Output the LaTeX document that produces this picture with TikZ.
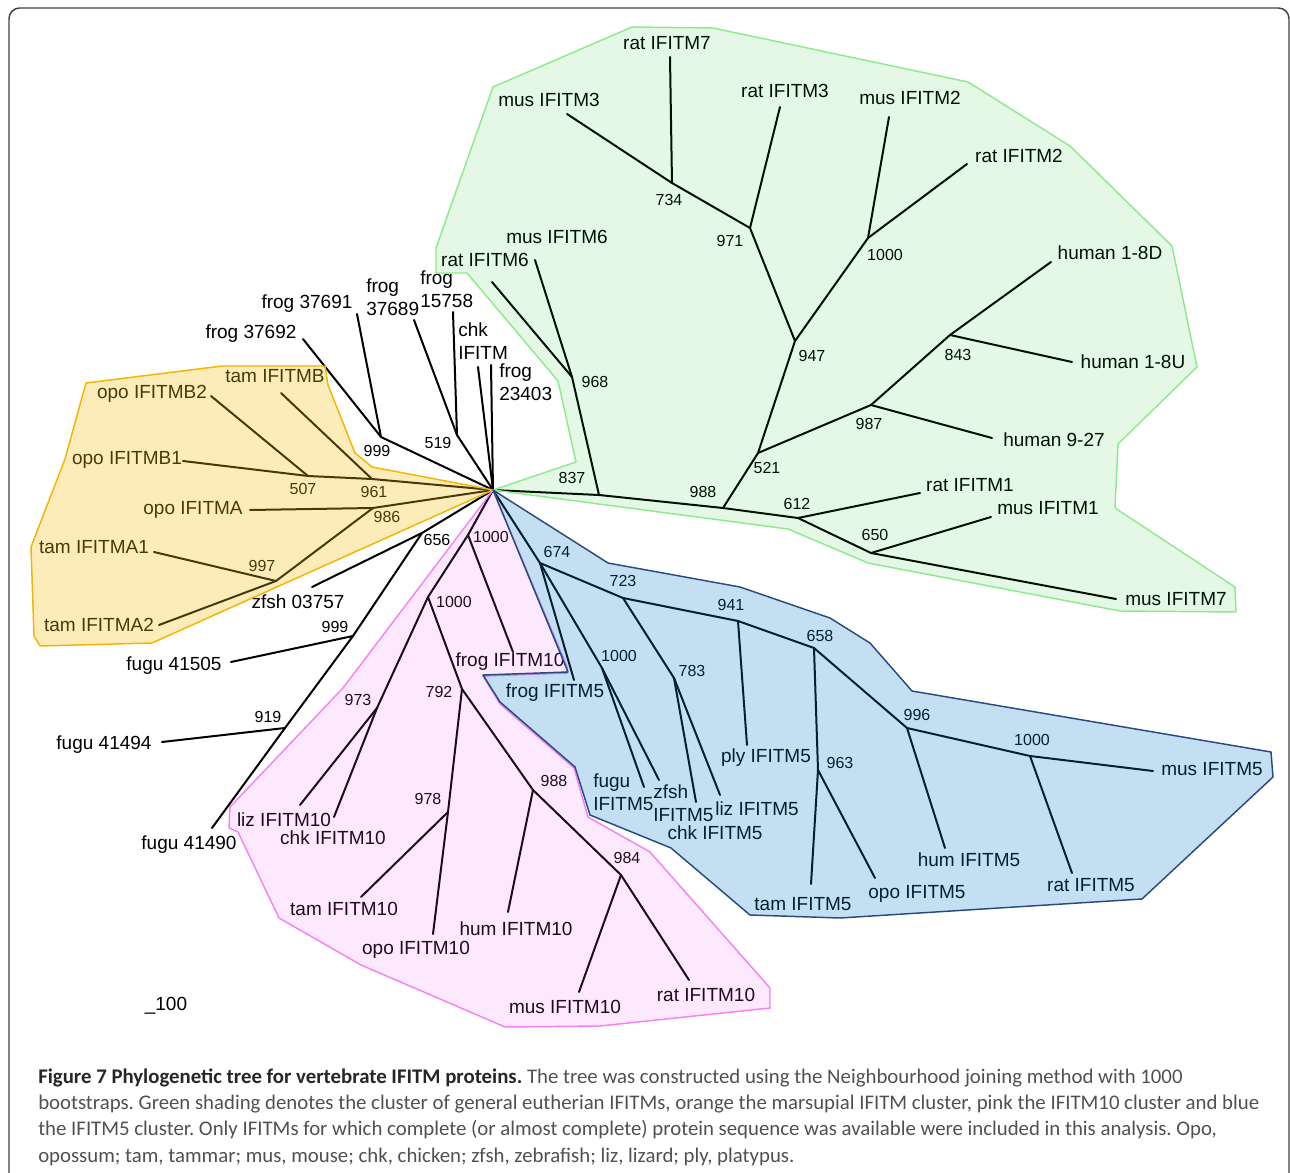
\documentclass[tikz,border=0pt]{standalone}
\usepackage{fontspec}
\setmainfont{Liberation Sans}
\newfontfamily\capfont{Carlito}
\definecolor{grnfill}{RGB}{0,180,0}
\definecolor{grnline}{RGB}{140,235,140}
\definecolor{orgfill}{RGB}{245,192,22}
\definecolor{orgline}{RGB}{245,180,0}
\definecolor{pnkfill}{RGB}{242,88,242}
\definecolor{pnkline}{RGB}{245,130,245}
\definecolor{blufill}{RGB}{19,123,203}
\definecolor{bluline}{RGB}{40,75,125}
\definecolor{captext}{RGB}{80,80,80}
\tikzset{
  branch/.style={line width=1.5pt, line cap=round},
  leaf/.style={inner sep=0pt, text height=10.5pt, text depth=2.5pt, font=\fontsize{14.25}{17}\selectfont},
  twoline/.style={inner sep=0pt, align=left, anchor=west, font=\fontsize{14.25}{17}\selectfont},
  boot/.style={inner sep=0pt, text height=9pt, text depth=2pt, font=\fontsize{12}{14}\selectfont},
  hull/.style={line width=1.1pt, line join=round},
}
\frenchspacing
\begin{document}
\begin{tikzpicture}[x=0.75pt, y=-0.75pt, line join=round]
\useasboundingbox (0,0) rectangle (1290,1173);
%tree points, pixel grid of the figure
\foreach \n/\x/\y in {R/493/490,
  n837/599/495, n968/572/377, eRatMsix/492/282, eMusMsix/535/260, n988g/723/508, n612/798/518,
  n521/758/453, n947/795/341, n971/750/228, n1000g/868/238, n734/672/183,
  eMusMthree/567/114, eRatMseven/670/57, eRatMthree/780/107, eMusMtwo/889/117, eRatMtwo/967/164,
  n987/871/405, n843/950/335, eHoneD/1051/262, eHoneU/1072/362, eHnine/992/438,
  eRatMone/920/493, n650/871/553, eMusMone/991/517, eMusMseven/1116/599,
  n961/372/479, n507/308/476, eOpoBone/183/461, eOpoBtwo/211/396, eTamB/281/393,
  n986/373/508, eOpoA/250/510, n997/276/581, eTamAone/154/552, eTamAtwo/159/625,
  n999f/381/437, eFrsixninetwo/303/339, eFrsixnineone/357/314, n519/457/435, eFrsixeightnine/414/320,
  eFrfiveeight/453/312, eChk/478/367, eFrfouronethree/491/365,
  n656/422/533, eZf/312/587, n999u/353/636, eFgfive/231/662, n919/285/728, eFgfour/162/742, eFgzero/212/828,
  n1000a/468/535, eFrMten/513/652, n1000b/428/597, n973/377/708, eLizMten/300/805, eChkMten/334/817,
  n792/462/689, n978/448/812, eTamMten/361/897, eOpoMten/433/934, n988p/533/790, eHumMten/508/912,
  n984/621/875, eMusMten/579/992, eRatMten/689/980,
  n674/540/563, eFrMfive/574/680, n1000c/602/668, eFgMfive/644/787, eZfMfive/659/780,
  n723/623/598, n783/674/678, eChkMfive/696/802, eLizMfive/720/795, n941/738/621, ePlyMfive/747/745,
  n658/814/648, n963/818/770, eTamMfive/811/884, eOpoMfive/875/878, n996/907/728, eHumMfive/945/848,
  n1000d/1030/756, eRatMfive/1072/873, eMusMfive/1153/771}
  \coordinate (\n) at (\x,\y);
\foreach \a/\b in {R/n837, n837/n968, n968/eRatMsix, n968/eMusMsix, n837/n988g, n988g/n612, n988g/n521,
  n521/n947, n947/n971, n947/n1000g, n971/n734, n971/eRatMthree, n734/eMusMthree, n734/eRatMseven,
  n1000g/eMusMtwo, n1000g/eRatMtwo, n521/n987, n987/n843, n987/eHnine, n843/eHoneD, n843/eHoneU,
  n612/eRatMone, n612/n650, n650/eMusMone, n650/eMusMseven,
  R/n961, n961/n507, n507/eOpoBone, n507/eOpoBtwo, n961/eTamB, R/n986, n986/eOpoA, n986/n997,
  n997/eTamAone, n997/eTamAtwo,
  R/n999f, n999f/eFrsixninetwo, n999f/eFrsixnineone, R/n519, n519/eFrsixeightnine, n519/eFrfiveeight,
  R/eChk, R/eFrfouronethree, R/n656, n656/eZf, n656/n999u, n999u/eFgfive, n999u/n919, n919/eFgfour, n919/eFgzero,
  R/n1000a, n1000a/eFrMten, n1000a/n1000b, n1000b/n973, n973/eLizMten, n973/eChkMten, n1000b/n792,
  n792/n978, n978/eTamMten, n978/eOpoMten, n792/n988p, n988p/eHumMten, n988p/n984, n984/eMusMten, n984/eRatMten,
  R/n674, n674/eFrMfive, n674/n1000c, n1000c/eFgMfive, n1000c/eZfMfive, n674/n723, n723/n783,
  n783/eChkMfive, n783/eLizMfive, n723/n941, n941/ePlyMfive, n941/n658, n658/n963, n963/eTamMfive,
  n963/eOpoMfive, n658/n996, n996/eHumMfive, n996/n1000d, n1000d/eRatMfive, n1000d/eMusMfive}
  \draw[branch] (\a)--(\b);
%leaf names
\foreach \n/\t/\x/\y in {lRatMseven/rat IFITM7/667/44, lMusMthree/mus IFITM3/549/101, lRatMthree/rat IFITM3/785/92,
  lMusMtwo/mus IFITM2/910/99, lRatMtwo/rat IFITM2/1019/157, lMusMsix/mus IFITM6/557/238, lRatMsix/rat IFITM6/485/261,
  lHoneD/human 1-8D/1110/254, lHoneU/human 1-8U/1133/363, lHnine/human 9-27/1054/441, lRatMone/rat IFITM1/970/486,
  lMusMone/mus IFITM1/1048/509, lMusMseven/mus IFITM7/1176/600,
  lOpoBtwo/opo IFITMB2/152/393, lTamB/tam IFITMB/275/377, lOpoBone/opo IFITMB1/127/459, lOpoA/opo IFITMA/193/509,
  lTamAone/tam IFITMA1/94/548, lTamAtwo/tam IFITMA2/99/626,
  lFrsixnineone/frog 37691/307/303, lFrsixninetwo/frog 37692/251/333, lZf/zfsh 03757/298/603,
  lFgfive/fugu 41505/174/665, lFgfour/fugu 41494/104/744, lFgzero/fugu 41490/189/844,
  lFrMten/frog IFITM10/510/661, lLizMten/liz IFITM10/284/821, lChkMten/chk IFITM10/333/839,
  lTamMten/tam IFITM10/344/910, lOpoMten/opo IFITM10/416/949, lHumMten/hum IFITM10/516/930,
  lMusMten/mus IFITM10/565/1008, lRatMten/rat IFITM10/706/996,
  lFrMfive/frog IFITM5/555/692, lLizMfive/liz IFITM5/757/810, lChkMfive/chk IFITM5/715/834,
  lPlyMfive/ply IFITM5/766/757, lTamMfive/tam IFITM5/803/905, lOpoMfive/opo IFITM5/917/893,
  lHumMfive/hum IFITM5/969/861, lRatMfive/rat IFITM5/1091/886, lMusMfive/mus IFITM5/1212/770}
  \node[leaf] (\n) at (\x,\y) {\t};
\foreach \n/\t/\x/\y in {lFrsixeightnine/{frog\\37689}/366/297, lFrfiveeight/{frog\\15758}/420/289,
  lChk/{chk\\IFITM}/458/341, lFrfouronethree/{frog\\23403}/499/382,
  lFgMfive/{fugu\\IFITM5}/593/792, lZfMfive/{zfsh\\IFITM5}/653/803}
  \node[twoline] (\n) at (\x,\y) {\t};
%bootstrap values
\foreach \v/\x/\y in {734/669/201, 971/730/242, 1000/885/256, 947/812/357, 968/595/383, 843/958/356,
  987/869/425, 521/767/469, 837/572/479, 988/703/493, 612/797/505, 650/875/536,
  999/377/452, 519/438/444, 507/303/490, 961/374/493, 986/387/518, 997/262/567, 656/437/541,
  999/335/628, 919/268/718, 1000/491/538, 1000/454/603, 973/358/701, 792/439/693, 978/428/800,
  988/554/782, 984/627/859, 674/557/553, 723/623/582, 941/731/606, 658/820/637, 783/692/672,
  1000/619/657, 963/840/764, 996/917/716, 1000/1032/741}
  \node[boot] (b\x) at (\x,\y) {\v};
\node[leaf] (scale) at (166,1005) {\_100};
%cluster shading
\filldraw[hull, fill=grnfill, fill opacity=.1, draw=grnline] (493,87) -- (632,27) -- (713,28) -- (968,82) -- (1070,146)
  -- (1172,246) -- (1197,367) -- (1118,444) -- (1115,508) -- (1235,587) -- (1236,612) -- (1120,611) -- (868,563)
  -- (788,529) -- (R) -- (576,462) -- (558,381) -- (467,273) -- (436,273) -- (436,248) -- cycle;
\filldraw[hull, fill=orgfill, fill opacity=.3, draw=orgline] (86,383) -- (222,366) -- (325,366) -- (328,385) -- (355,453)
  -- (372,467) -- (R) -- (152,643) -- (40,646) -- (34,636) -- (31,547) -- (65,459) -- cycle;
\filldraw[hull, fill=pnkfill, fill opacity=.13, draw=pnkline] (R) -- (567,667) -- (567,673) -- (483,676) -- (500,704)
  -- (574,768) -- (588,817) -- (650,852) -- (770,988) -- (770,1008) -- (600,1026) -- (505,1027) -- (361,965)
  -- (279,918) -- (238,832) -- (229,828) -- (230,807) -- (343,688) -- cycle;
\filldraw[hull, fill=blufill, fill opacity=.25, draw=bluline] (R) -- (568,672) -- (483,675) -- (500,702) -- (575,767)
  -- (590,815) -- (671,848) -- (750,915) -- (840,918) -- (1142,899) -- (1273,777) -- (1271,752) -- (912,691)
  -- (870,643) -- (830,618) -- (740,587) -- (608,563) -- cycle;
%frame and caption
\draw[line width=1.1pt, color=black!75, rounded corners=8pt] (9,1200) -- (9,8) -- (1289,8) -- (1289,1200);
\foreach \n/\t/\y in {capone/{{\bfseries\color{black!85}Figure 7 Phylogenetic tree for vertebrate IFITM proteins.} The tree was constructed using the Neighbourhood joining method with 1000}/1078,
  captwo/{bootstraps. Green shading denotes the cluster of general eutherian IFITMs, orange the marsupial IFITM cluster, pink the IFITM10 cluster and blue}/1104,
  capthree/{the IFITM5 cluster. Only IFITMs for which complete (or almost complete) protein sequence was available were included in this analysis. Opo,}/1130,
  capfour/{opossum; tam, tammar; mus, mouse; chk, chicken; zfsh, zebrafish; liz, lizard; ply, platypus.}/1157}
  \node[inner sep=0pt, anchor=west, text height=11pt, text depth=3pt, text=captext, font=\capfont\fontsize{15.6}{18}\selectfont] (\n) at (38,\y) {\t};
\end{tikzpicture}
\end{document}
